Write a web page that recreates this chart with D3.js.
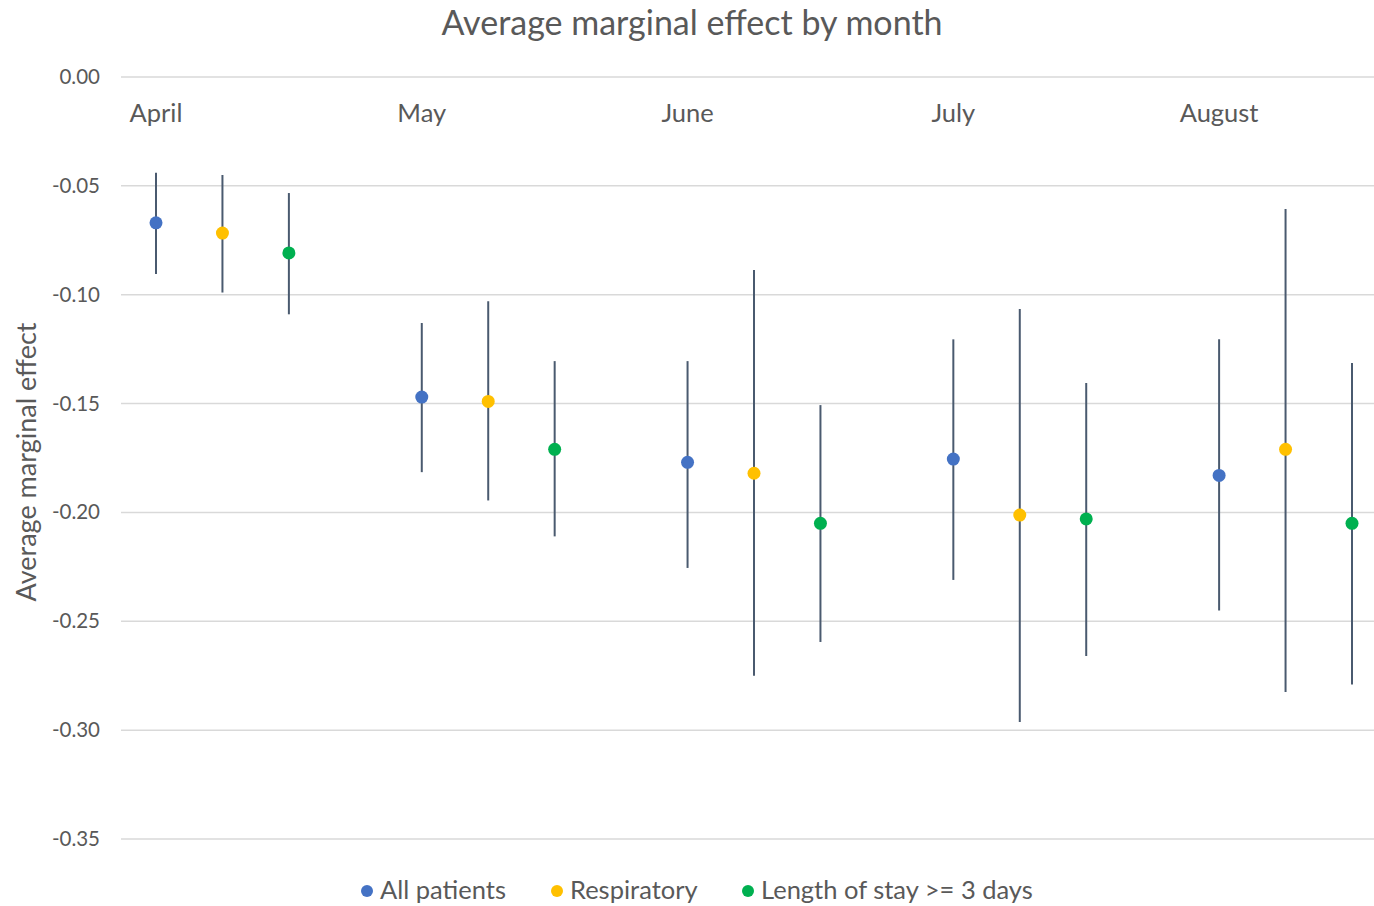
<!DOCTYPE html>
<html lang="en">
<head>
    <meta charset="UTF-8">
    <title>Average marginal effect by month</title>
    <script src="https://d3js.org/d3.v7.min.js"></script>
    <style>
        body { margin: 0; background: #fff; }
        text { font-family: Lato, "Open Sans", sans-serif; fill: #595959; }
        .grid line { stroke: #d9d9d9; stroke-width: 1.5px; }
        .err { stroke: #4a5a6f; stroke-width: 2px; }
    </style>
</head>
<body>
<script>
    const months = ["April", "May", "June", "July", "August"];
    const seriesNames = ["All patients", "Respiratory", "Length of stay >= 3 days"];
    const seriesColors = ["#4472C4", "#FFC000", "#00B050"];
    // point estimate, lower and upper bound per month
    const allPatients = [-0.067, -0.147, -0.177, -0.1755, -0.183];
    const allLow = [-0.0905, -0.1815, -0.2255, -0.231, -0.245];
    const allHigh = [-0.044, -0.113, -0.1305, -0.1205, -0.1205];
    const respiratory = [-0.0717, -0.149, -0.182, -0.2012, -0.171];
    const respLow = [-0.099, -0.1945, -0.275, -0.2963, -0.2825];
    const respHigh = [-0.045, -0.103, -0.0887, -0.1066, -0.0606];
    const lengthOfStay = [-0.0808, -0.171, -0.205, -0.203, -0.205];
    const losLow = [-0.109, -0.211, -0.2595, -0.266, -0.279];
    const losHigh = [-0.0533, -0.1305, -0.1507, -0.1406, -0.1314];
    const yTicks = [0, -0.05, -0.10, -0.15, -0.20, -0.25, -0.30, -0.35];

    const series = [
        { name: seriesNames[0], color: seriesColors[0], mid: allPatients, lo: allLow, hi: allHigh },
        { name: seriesNames[1], color: seriesColors[1], mid: respiratory, lo: respLow, hi: respHigh },
        { name: seriesNames[2], color: seriesColors[2], mid: lengthOfStay, lo: losLow, hi: losHigh }
    ];

    const points = [];
    months.forEach((m, i) => {
        series.forEach((s, j) => {
            points.push({ month: m, slot: i * 4 + j, color: s.color, mid: s.mid[i], lo: s.lo[i], hi: s.hi[i] });
        });
    });

    const width = 1374, height = 906;
    const plot = { left: 121, right: 1374, top: 77, bottom: 839 };

    const svg = d3.select("body").append("svg")
        .attr("width", width)
        .attr("height", height);

    const y = d3.scaleLinear().domain([0, -0.35]).range([plot.top, plot.bottom]);
    const x = d3.scaleLinear().domain([0, 18]).range([156, 1352]);

    svg.append("g")
        .attr("class", "grid")
        .selectAll("line")
        .data(yTicks)
        .join("line")
        .attr("x1", plot.left)
        .attr("x2", plot.right)
        .attr("y1", d => y(d))
        .attr("y2", d => y(d));

    svg.append("g")
        .selectAll("text")
        .data(yTicks)
        .join("text")
        .attr("x", 100)
        .attr("y", d => y(d) + 7)
        .attr("text-anchor", "end")
        .style("font-size", "20.5px")
        .text(d => d3.format(".2f")(d).replace("−", "-"));

    svg.append("g")
        .selectAll("text")
        .data(months)
        .join("text")
        .attr("x", (d, i) => x(i * 4))
        .attr("y", 122)
        .attr("text-anchor", "middle")
        .style("font-size", "25.5px")
        .text(d => d);

    svg.append("g")
        .selectAll("line")
        .data(points)
        .join("line")
        .attr("class", "err")
        .attr("x1", d => x(d.slot))
        .attr("x2", d => x(d.slot))
        .attr("y1", d => y(d.hi))
        .attr("y2", d => y(d.lo));

    svg.append("g")
        .selectAll("circle")
        .data(points)
        .join("circle")
        .attr("cx", d => x(d.slot))
        .attr("cy", d => y(d.mid))
        .attr("r", 6.5)
        .attr("fill", d => d.color);

    svg.append("text")
        .attr("x", 692)
        .attr("y", 35)
        .attr("text-anchor", "middle")
        .style("font-size", "34px")
        .text("Average marginal effect by month");

    svg.append("text")
        .attr("transform", "translate(36,462) rotate(-90)")
        .attr("text-anchor", "middle")
        .style("font-size", "27px")
        .text("Average marginal effect");

    const legendX = [367, 557, 748];
    const legend = svg.append("g")
        .selectAll("g")
        .data(series)
        .join("g")
        .attr("transform", (d, i) => `translate(${legendX[i]},891)`);
    legend.append("circle")
        .attr("r", 6)
        .attr("cy", 0)
        .attr("fill", d => d.color);
    legend.append("text")
        .attr("x", 13)
        .attr("y", 8)
        .style("font-size", "25.5px")
        .text(d => d.name);
</script>
</body>
</html>
